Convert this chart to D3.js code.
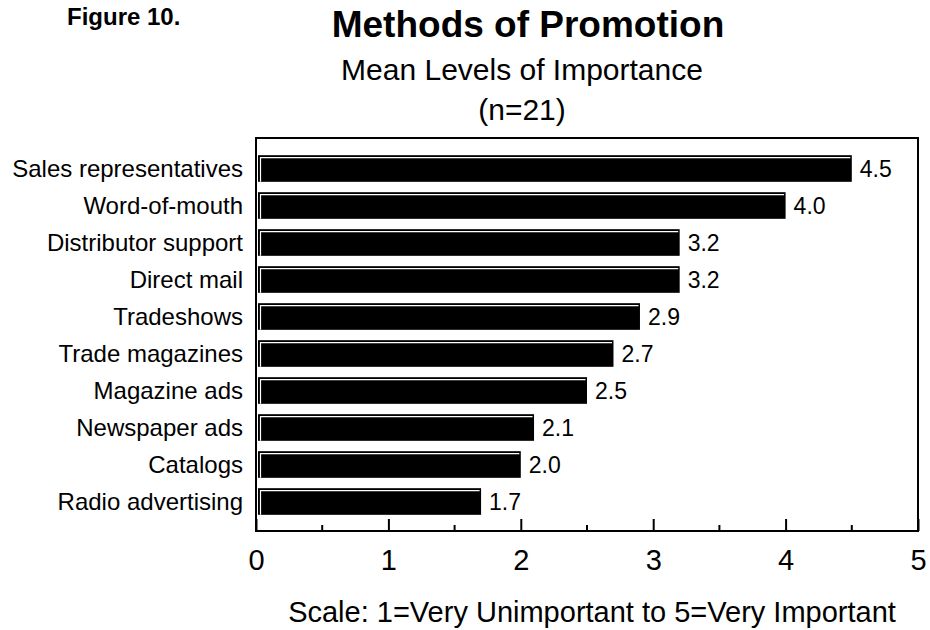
<!DOCTYPE html>
<html lang="en">

<head>
  <meta charset="utf-8">
  <title>Methods of Promotion</title>
  <script src="https://d3js.org/d3.v7.min.js"></script>
  <style>
    body { margin: 0; background: #fff; }
    text { font-family: "Liberation Sans", Arial, sans-serif; fill: #000; }
  </style>
</head>

<body>
  <script>
    var categories = ['Sales representatives', 'Word-of-mouth', 'Distributor support', 'Direct mail',
      'Tradeshows', 'Trade magazines', 'Magazine ads', 'Newspaper ads', 'Catalogs', 'Radio advertising'];
    var values = [4.5, 4.0, 3.2, 3.2, 2.9, 2.7, 2.5, 2.1, 2.0, 1.7];
    var tickLabels = [0, 1, 2, 3, 4, 5];
    var minorTicks = [0.5, 1.5, 2.5, 3.5, 4.5];

    var w = 930, h = 630;
    var plot = { left: 256, right: 918, top: 138, bottom: 531 };

    var svg = d3.select('body').append('svg')
      .attr('width', w)
      .attr('height', h);

    var x = d3.scaleLinear()
      .domain([0, 5])
      .range([plot.left, plot.right]);
    var y = d3.scaleBand()
      .domain(categories)
      .range([150, 520])
      .paddingInner(0.28)
      .paddingOuter(0.14);

    var data = categories.map(function(c, i) { return { name: c, value: values[i] }; });

    // titles
    svg.append('text').attr('x', 67).attr('y', 25)
      .style('font-size', '24px').style('font-weight', 'bold')
      .text('Figure 10.');
    svg.append('text').attr('x', 528).attr('y', 37)
      .attr('text-anchor', 'middle')
      .style('font-size', '37px').style('font-weight', 'bold')
      .text('Methods of Promotion');
    svg.append('text').attr('x', 522).attr('y', 80)
      .attr('text-anchor', 'middle')
      .style('font-size', '30px')
      .text('Mean Levels of Importance');
    svg.append('text').attr('x', 522).attr('y', 120)
      .attr('text-anchor', 'middle')
      .style('font-size', '30px')
      .text('(n=21)');

    // bars
    var bars = svg.selectAll('.bar')
      .data(data)
    .enter().append('g')
      .attr('class', 'bar');
    bars.append('rect')
      .attr('x', x(0) + 2)
      .attr('y', function(d) { return y(d.name); })
      .attr('width', function(d) { return x(d.value) - x(0) - 2; })
      .attr('height', y.bandwidth())
      .style('fill', '#000');
    // white highlight along top and left edge
    bars.append('path')
      .attr('d', function(d) {
        var x0 = x(0) + 4.5, y0 = y(d.name) + 2.5;
        return 'M' + x0 + ',' + (y(d.name) + y.bandwidth()) + 'V' + y0 + 'H' + (x(d.value) - 1.5);
      })
      .style('fill', 'none')
      .style('stroke', '#fff')
      .style('stroke-width', 1.2);

    // value labels
    bars.append('text')
      .attr('x', function(d) { return x(d.value) + 8; })
      .attr('y', function(d) { return y(d.name) + y.bandwidth() / 2; })
      .attr('dy', '0.36em')
      .style('font-size', '23px')
      .text(function(d) { return d.value.toFixed(1); });

    // category labels
    svg.selectAll('.cat')
      .data(data)
    .enter().append('text')
      .attr('class', 'cat')
      .attr('x', plot.left - 13)
      .attr('y', function(d) { return y(d.name) + y.bandwidth() / 2; })
      .attr('dy', '0.36em')
      .attr('text-anchor', 'end')
      .style('font-size', '24px')
      .text(function(d) { return d.name; });

    // frame
    svg.append('rect')
      .attr('x', plot.left)
      .attr('y', plot.top)
      .attr('width', plot.right - plot.left)
      .attr('height', plot.bottom - plot.top)
      .style('fill', 'none')
      .style('stroke', '#000')
      .style('stroke-width', 2);

    // x axis ticks pointing up
    var xAxis = svg.append('g')
      .attr('transform', 'translate(0,' + plot.bottom + ')')
      .call(d3.axisBottom(x).tickValues(tickLabels).tickSize(-12).tickPadding(18).tickFormat(d3.format('d')));
    xAxis.select('.domain').remove();
    xAxis.selectAll('line').style('stroke-width', 2);
    xAxis.selectAll('text').style('font-size', '29px')
      .style('font-family', '"Liberation Sans", Arial, sans-serif');

    svg.append('g').selectAll('line')
      .data(minorTicks)
    .enter().append('line')
      .attr('x1', function(d) { return x(d); })
      .attr('x2', function(d) { return x(d); })
      .attr('y1', plot.bottom)
      .attr('y2', plot.bottom - 6)
      .style('stroke', '#000')
      .style('stroke-width', 2);

    svg.append('text')
      .attr('x', 592)
      .attr('y', 622)
      .attr('text-anchor', 'middle')
      .style('font-size', '29px')
      .text('Scale: 1=Very Unimportant to 5=Very Important');
  </script>
</body>

</html>
